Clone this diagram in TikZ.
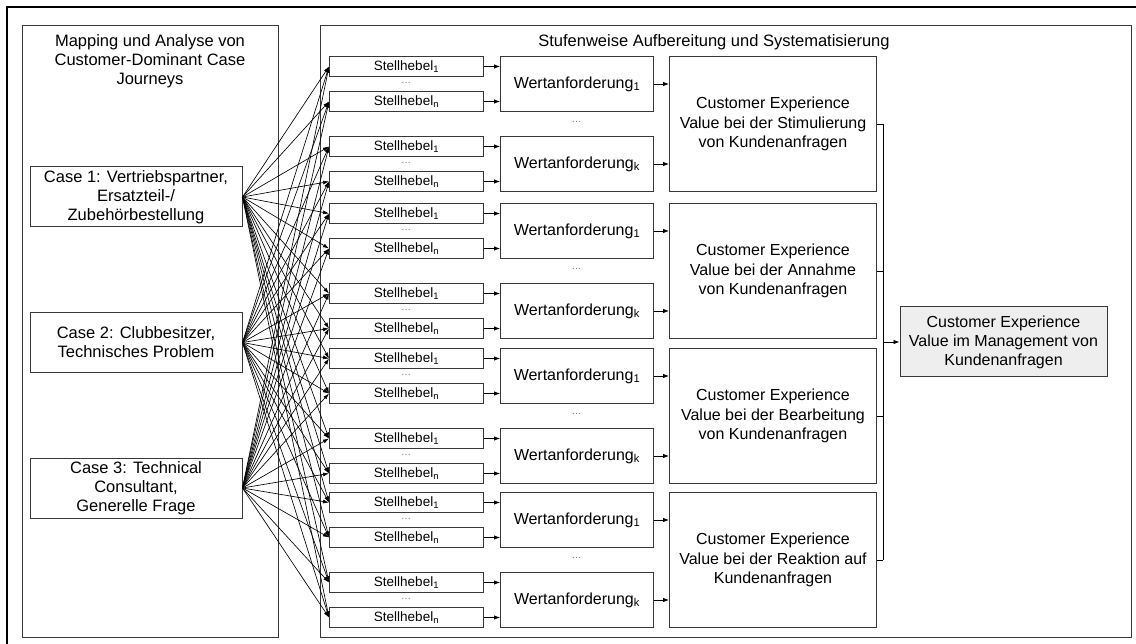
\documentclass[tikz,border=0pt]{standalone}
\usepackage{fontspec}
\setmainfont{Liberation Sans}
\usetikzlibrary{arrows.meta,calc}
\definecolor{boxgray}{HTML}{383838}
\definecolor{fillgray}{HTML}{EEEEEE}
\definecolor{dotgray}{HTML}{707070}
\begin{document}
\begin{tikzpicture}[x=1pt,y=-1pt,
  box/.style={draw=boxgray, line width=1pt, inner sep=0pt, align=center},
  frame/.style={box},
  lever/.style={box, minimum width=154pt, minimum height=20pt, font=\fontsize{13.5}{15}\selectfont},
  req/.style={box, minimum width=153pt, minimum height=55pt, font=\fontsize{16}{19}\selectfont},
  cxbox/.style={box, minimum width=207pt, minimum height=135pt, font=\fontsize{16}{19.5}\selectfont},
  casebox/.style={box, minimum width=212pt, minimum height=60pt, font=\fontsize{16.5}{19}\selectfont},
  title/.style={align=center, inner sep=0pt, font=\fontsize{16.5}{19}\selectfont},
  arr/.style={-{Latex[length=6pt,width=4.5pt]}, line width=0.8pt},
  fan/.style={-{Latex[length=6pt,width=4pt]}, line width=0.65pt},
  dotsnode/.style={inner sep=0pt, text=dotgray, font=\fontsize{10}{10}\selectfont}
]
\useasboundingbox (0,0) rectangle (1136,644);
% outer frame (only top and left visible)
\draw[line width=2.6pt] (7,644) -- (7,7) -- (1136,7);

% section frames
\node[frame, minimum width=256pt, minimum height=612pt, anchor=north west] (leftframe) at (22,25) {};
\node[frame, minimum width=811pt, minimum height=612pt, anchor=north west] (rightframe) at (320,25) {};
\node[title] (lefttitle) at (150,61) {Mapping und Analyse von\\Customer-Dominant Case\\Journeys};
\node[title] (righttitle) at (714,42) {Stufenweise Aufbereitung und Systematisierung};

% cases
\node[casebox] (c1) at (136,197) {Case 1: Vertriebspartner,\\Ersatzteil-/\\Zubehörbestellung};
\node[casebox] (c2) at (136,342.5) {Case 2: Clubbesitzer,\\Technisches Problem};
\node[casebox] (c3) at (136,488) {Case 3: Technical\\Consultant,\\Generelle Frage};

% blocks
\foreach \i/\b/\t in {1/56/{Customer Experience\\Value bei der Stimulierung\\von Kundenanfragen},
                      2/203/{Customer Experience\\Value bei der Annahme\\von Kundenanfragen},
                      3/348/{Customer Experience\\Value bei der Bearbeitung\\von Kundenanfragen},
                      4/492/{Customer Experience\\Value bei der Reaktion auf\\Kundenanfragen}} {
  \node[cxbox, anchor=north west] (cx-\i) at (669,\b) {\t};
  \foreach \j/\o/\sub in {1/0/1, 2/80/k} {
    \node[lever, anchor=north west] (s-\i-\j-1) at (329,\b+\o) {Stellhebel\textsubscript{1}};
    \node[lever, anchor=north west] (s-\i-\j-n) at (329,\b+\o+35) {Stellhebel\textsubscript{n}};
    \node[dotsnode] (d-\i-\j) at (406,\b+\o+27) {\ldots};
    \node[req, anchor=north west] (w-\i-\j) at (500,\b+\o) {Wertanforderung\textsubscript{\sub}};
    \draw[arr] (s-\i-\j-1.east) -- (s-\i-\j-1.east -| w-\i-\j.west);
    \draw[arr] (s-\i-\j-n.east) -- (s-\i-\j-n.east -| w-\i-\j.west);
    \draw[arr] (w-\i-\j.east) -- (w-\i-\j.east -| cx-\i.west);
  }
  \node[dotsnode] (dw-\i) at (576.5,\b+66) {\ldots};
}

% fan connections
\foreach \c in {c1,c2,c3} {
  \foreach \i in {1,...,4} {
    \foreach \j in {1,2} {
      \foreach \l in {1,n} {
        \draw[fan] (\c.east) -- (s-\i-\j-\l.west);
      }
    }
  }
}

% final result
\node[box, fill=fillgray, minimum width=207pt, minimum height=70pt, font=\fontsize{16}{19}\selectfont] (final) at (1003.5,342) {Customer Experience\\Value im Management von\\Kundenanfragen};
\coordinate (bus) at (883,342);
\foreach \i in {1,...,4} {
  \draw[line width=0.8pt] (cx-\i.east) -- (cx-\i.east -| bus);
}
\draw[line width=0.8pt] (bus |- cx-1.east) -- (bus |- cx-4.east);
\draw[arr] (bus) -- (final.west);
\end{tikzpicture}
\end{document}
